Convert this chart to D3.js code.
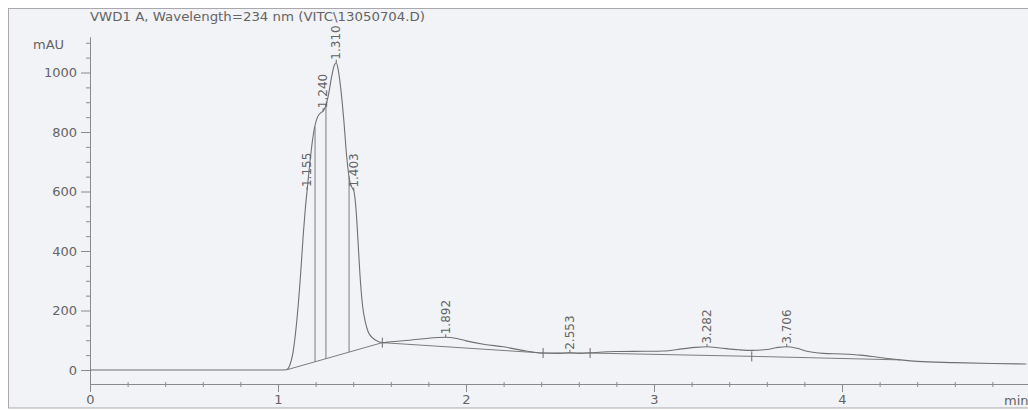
<!DOCTYPE html>
<html>
<head>
<meta charset="utf-8">
<script src="https://cdn.jsdelivr.net/npm/d3@7"></script>
<style>
  html, body { margin: 0; padding: 0; background: #ffffff; }
  svg { display: block; }
  text { font-family: "DejaVu Sans", sans-serif; fill: #646464; }
</style>
</head>
<body>
<script>
// ---- data ----
const title = "VWD1 A, Wavelength=234 nm (VITC\\13050704.D)";
const yUnit = "mAU";
const xUnit = "min";

// signal trace: retention time (min) and absorbance (mAU)
const traceTime = [0, 1.00, 1.045, 1.06, 1.08, 1.10, 1.12, 1.135, 1.145, 1.155, 1.17, 1.19, 1.21, 1.23, 1.24,
  1.255, 1.27, 1.285, 1.30, 1.31, 1.32, 1.335, 1.35, 1.365, 1.38, 1.395, 1.403, 1.415, 1.425, 1.436,
  1.45, 1.465, 1.48, 1.50, 1.52, 1.555, 1.60, 1.70, 1.80, 1.892, 1.95, 2.00, 2.10, 2.20, 2.30, 2.41,
  2.50, 2.553, 2.60, 2.66, 2.80, 2.95, 3.05, 3.15, 3.22, 3.282, 3.35, 3.45, 3.52, 3.60, 3.66, 3.706,
  3.76, 3.82, 3.90, 4.00, 4.10, 4.20, 4.31, 4.40, 4.60, 4.80, 4.98];
const traceMAU = [0, 0, 1, 12, 60, 165, 320, 460, 540, 605, 700, 800, 850, 866, 870,
  890, 930, 985, 1025, 1033, 1010, 940, 840, 720, 640, 612, 603, 540, 440, 320,
  215, 160, 128, 110, 100, 92, 95, 100, 107, 110, 106, 98, 86, 78, 66, 57,
  56, 58, 56, 58, 62, 63, 64, 71, 76, 78, 74, 68, 66, 69, 76, 78,
  73, 62, 56, 54, 50, 42, 34, 29, 25, 22, 20];

// integration baseline (connected segments)
const baseTime = [1.048, 1.555, 2.41, 2.66, 3.52, 4.31];
const baseMAU = [1, 92, 57, 57, 46, 34];
// baseline event marks
const markTime = [1.555, 2.41, 2.66, 3.52];

// drop lines between unresolved peaks
const dropTime = [1.197, 1.255, 1.378];

// peak retention-time labels
const peakTime = [1.155, 1.240, 1.310, 1.403, 1.892, 2.553, 3.282, 3.706];
const peakLabel = ["1.155", "1.240", "1.310", "1.403", "1.892", "2.553", "3.282", "3.706"];

// axis ticks
const xMajorTicks = [0, 1, 2, 3, 4];
const xMinorTicks = [0.2, 0.4, 0.6, 0.8, 1.2, 1.4, 1.6, 1.8, 2.2, 2.4, 2.6, 2.8, 3.2, 3.4, 3.6, 3.8, 4.2, 4.4, 4.6, 4.8];
const yMajorTicks = [0, 200, 400, 600, 800, 1000];
const yMinorTicks = [50, 100, 150, 250, 300, 350, 450, 500, 550, 650, 700, 750, 850, 900, 950, 1050, 1100];

// ---- drawing ----
const W = 1028, H = 411;
const svg = d3.select("body").append("svg").attr("width", W).attr("height", H);

svg.append("rect").attr("x", 8.5).attr("y", 8.5).attr("width", W).attr("height", 399.5)
  .attr("fill", "#f2f3f7").attr("stroke", "#a9a9ad").attr("stroke-width", 1);

const x = d3.scaleLinear().domain([0, 5]).range([90, 1030]);
const y = d3.scaleLinear().domain([-47, 1120]).range([384, 36.8]);

function interp(ts, vs, t) {
  for (let i = 0; i < ts.length - 1; i++) {
    if (t >= ts[i] && t <= ts[i + 1]) {
      const f = (t - ts[i]) / (ts[i + 1] - ts[i]);
      return vs[i] + f * (vs[i + 1] - vs[i]);
    }
  }
  return vs[vs.length - 1];
}

const axisColor = "#8a8a8a";
function styleAxis(g) {
  g.selectAll("path, line").attr("stroke", axisColor).attr("stroke-width", 1);
  g.selectAll("text").attr("fill", "#646464").style("font-family", '"DejaVu Sans", sans-serif');
}

// y axis
const yMinorG = svg.append("g").attr("transform", `translate(${x(0)},0)`)
  .call(d3.axisLeft(y).tickValues(yMinorTicks).tickSize(4).tickFormat(""));
yMinorG.select(".domain").remove();
styleAxis(yMinorG);
const yAxisG = svg.append("g").attr("transform", `translate(${x(0)},0)`)
  .call(d3.axisLeft(y).tickValues(yMajorTicks).tickSize(9).tickSizeOuter(0).tickPadding(4).tickFormat(d3.format("d")));
yAxisG.selectAll("text").style("font-size", "13px");
styleAxis(yAxisG);

// x axis
const xMinorG = svg.append("g").attr("transform", `translate(0,${y(-47) - 2})`)
  .call(d3.axisBottom(x).tickValues(xMinorTicks).tickSize(5).tickFormat(""));
xMinorG.select(".domain").remove();
styleAxis(xMinorG);
const xAxisG = svg.append("g").attr("transform", `translate(0,${y(-47)})`)
  .call(d3.axisBottom(x).tickValues(xMajorTicks).tickSize(8).tickSizeOuter(0).tickPadding(3).tickFormat(d3.format("d")));
xAxisG.selectAll("text").style("font-size", "13px");
styleAxis(xAxisG);

// units and title
svg.append("text").attr("x", 33).attr("y", 49).style("font-size", "13px").text(yUnit);
svg.append("text").attr("x", 1004).attr("y", 405).style("font-size", "13px").text(xUnit);
svg.append("text").attr("x", 90).attr("y", 21).style("font-size", "13px")
  .attr("textLength", 335).attr("lengthAdjust", "spacingAndGlyphs").text(title);

// integration baseline
const traceData = traceTime.map((t, i) => [t, traceMAU[i]]);
const baseData = baseTime.map((t, i) => [t, baseMAU[i]]);
svg.append("path").datum(baseData)
  .attr("d", d3.line().x(d => x(d[0])).y(d => y(d[1])))
  .attr("fill", "none").attr("stroke", "#7c7c7c").attr("stroke-width", 1);

// baseline event marks
svg.selectAll("line.mark").data(markTime).enter().append("line")
  .attr("x1", d => x(d)).attr("x2", d => x(d))
  .attr("y1", d => y(interp(baseTime, baseMAU, d)) - 5)
  .attr("y2", d => y(interp(baseTime, baseMAU, d)) + 5)
  .attr("stroke", "#6a6a6a").attr("stroke-width", 1);

// drop lines
svg.selectAll("line.drop").data(dropTime).enter().append("line")
  .attr("x1", d => x(d)).attr("x2", d => x(d))
  .attr("y1", d => y(interp(traceTime, traceMAU, d)))
  .attr("y2", d => y(interp(baseTime, baseMAU, d)))
  .attr("stroke", "#7c7c7c").attr("stroke-width", 1);

// trace
svg.append("path").datum(traceData)
  .attr("d", d3.line().x(d => x(d[0])).y(d => y(d[1])).curve(d3.curveMonotoneX))
  .attr("fill", "none").attr("stroke", "#707070").attr("stroke-width", 1.1);

// peak labels
const pk = svg.selectAll("g.peak").data(peakTime).enter().append("g")
  .attr("transform", d => `translate(${x(d)},${y(interp(traceTime, traceMAU, d))})`);
pk.append("line").attr("x1", 0).attr("x2", 0).attr("y1", 0).attr("y2", -3)
  .attr("stroke", "#6a6a6a");
pk.append("text")
  .attr("transform", "translate(0,-3) rotate(-90)")
  .attr("dominant-baseline", "central")
  .style("font-size", "12px")
  .text((d, i) => peakLabel[i]);
</script>
</body>
</html>
